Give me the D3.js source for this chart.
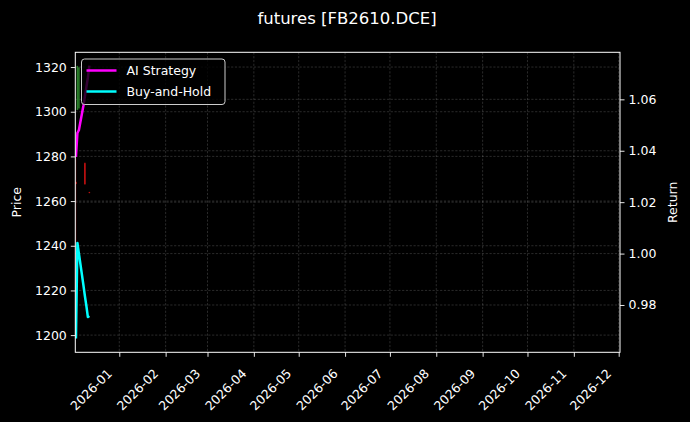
<!DOCTYPE html>
<html>
<head>
<meta charset="utf-8">
<script src="https://cdn.jsdelivr.net/npm/d3@7"></script>
<style>
  html, body { margin: 0; padding: 0; background: #000; }
  svg { display: block; font-family: "DejaVu Sans", sans-serif; }
</style>
</head>
<body>
<div id="chart"></div>
<script>
// data
const lineDates = ["2025-12-03", "2025-12-04", "2025-12-05", "2025-12-08", "2025-12-09", "2025-12-10", "2025-12-11", "2025-12-12"]
const aiStrategy = [1.0376, 1.0469, 1.0481, 1.0575, 1.0612, 1.0648, 1.0685, 1.0731]
const buyAndHold = [0.9670, 1.0041, 1.0000, 0.9878, 0.9835, 0.9796, 0.9753, 0.9757]

const candleDates = ["2025-12-03", "2025-12-04", "2025-12-05", "2025-12-09", "2025-12-12"]
const candleOpen = [1268.6, 1300.8, 1301.5, 1277.0, 1264.0]
const candleHigh = [1279.5, 1320.6, 1320.0, 1277.5, 1264.2]
const candleLow = [1198.5, 1300.6, 1301.0, 1267.3, 1263.4]
const candleClose = [1267.6, 1320.5, 1319.8, 1267.5, 1263.6]

const priceTicks = [1200, 1220, 1240, 1260, 1280, 1300, 1320]
const returnTicks = [0.98, 1.00, 1.02, 1.04, 1.06]
const monthTicks = ["2026-01", "2026-02", "2026-03", "2026-04", "2026-05", "2026-06",
  "2026-07", "2026-08", "2026-09", "2026-10", "2026-11", "2026-12"]

const seriesNames = ["AI Strategy", "Buy-and-Hold"]
const seriesColors = ["#ff00ff", "#00ffff"]

const W = 690, H = 422
const MARGIN = { LEFT: 75.3, RIGHT: 70, TOP: 52.3, BOTTOM: 69.7 }
const parseDay = d3.utcParse("%Y-%m-%d")
const parseMonth = d3.utcParse("%Y-%m")

const svg = d3.select("#chart").append("svg")
  .attr("width", W)
  .attr("height", H)
svg.append("rect").attr("width", W).attr("height", H).attr("fill", "#000")

// Scales
const x = d3.scaleUtc()
  .domain([new Date(Date.UTC(2025, 11, 2, 14)), new Date(Date.UTC(2026, 11, 1, 21))])
  .range([MARGIN.LEFT, W - MARGIN.RIGHT])
const yP = d3.scaleLinear()
  .domain([1192.3, 1326.6])
  .range([H - MARGIN.BOTTOM, MARGIN.TOP])
const yR = d3.scaleLinear()
  .domain([0.9616, 1.0783])
  .range([H - MARGIN.BOTTOM, MARGIN.TOP])

const plotL = MARGIN.LEFT, plotR = W - MARGIN.RIGHT
const plotT = MARGIN.TOP, plotB = H - MARGIN.BOTTOM

svg.append("defs").append("clipPath").attr("id", "plot")
  .append("rect").attr("x", plotL).attr("y", plotT)
  .attr("width", plotR - plotL).attr("height", plotB - plotT)

// Grid
const grid = svg.append("g")
  .attr("stroke", "#fff")
  .attr("stroke-opacity", 0.28)
  .attr("stroke-width", 0.6)
  .attr("stroke-dasharray", "2.2,1.6")
grid.selectAll(".gx").data(monthTicks).enter().append("line")
  .attr("x1", d => x(parseMonth(d))).attr("x2", d => x(parseMonth(d)))
  .attr("y1", plotT).attr("y2", plotB)
grid.selectAll(".gp").data(priceTicks).enter().append("line")
  .attr("x1", plotL).attr("x2", plotR)
  .attr("y1", d => yP(d)).attr("y2", d => yP(d))
grid.selectAll(".gr").data(returnTicks).enter().append("line")
  .attr("x1", plotL).attr("x2", plotR)
  .attr("y1", d => yR(d)).attr("y2", d => yR(d))

const plot = svg.append("g").attr("clip-path", "url(#plot)")

// Candles
const candles = candleDates.map((d, i) => ({
  date: parseDay(d), open: candleOpen[i], high: candleHigh[i], low: candleLow[i], close: candleClose[i]
}))
const candleColor = d => d.close >= d.open ? "#2f8a2f" : "#e01414"
plot.selectAll(".wick").data(candles).enter().append("line")
  .attr("x1", d => x(d.date)).attr("x2", d => x(d.date))
  .attr("y1", d => yP(d.high)).attr("y2", d => yP(d.low))
  .attr("stroke", candleColor)
  .attr("stroke-opacity", 0.45)
  .attr("stroke-width", 0.7)
const dayW = x(new Date(Date.UTC(2026, 0, 2))) - x(new Date(Date.UTC(2026, 0, 1)))
plot.selectAll(".body").data(candles).enter().append("rect")
  .attr("x", d => x(d.date) - dayW * 0.5)
  .attr("width", dayW)
  .attr("y", d => yP(Math.max(d.open, d.close)))
  .attr("height", d => Math.max(0.8, Math.abs(yP(d.open) - yP(d.close))))
  .attr("fill", candleColor)
  .attr("fill-opacity", 0.9)

// Return lines
const line = d3.line()
  .x((d, i) => x(parseDay(lineDates[i])))
  .y(d => yR(d))
;[aiStrategy, buyAndHold].forEach((s, i) => {
  plot.append("path")
    .attr("d", line(s))
    .attr("fill", "none")
    .attr("stroke", seriesColors[i])
    .attr("stroke-width", 2.5)
    .attr("stroke-linejoin", "round")
})

// Axes
const xAxisCall = d3.axisBottom(x)
  .tickValues(monthTicks.map(parseMonth))
  .tickFormat(d3.utcFormat("%Y-%m"))
  .tickSize(4.5)
const xAxis = svg.append("g")
  .attr("transform", `translate(0, ${plotB})`)
  .call(xAxisCall)
xAxis.selectAll("text")
  .attr("text-anchor", "end")
  .attr("dy", null)
  .attr("y", 0)
  .attr("transform", "translate(-7, 22) rotate(-45)")

const yAxisCall = d3.axisLeft(yP).tickValues(priceTicks)
  .tickFormat(d3.format("d")).tickSize(4.5).tickPadding(4)
svg.append("g").attr("transform", `translate(${plotL}, 0)`).call(yAxisCall)

const rAxisCall = d3.axisRight(yR).tickValues(returnTicks)
  .tickFormat(d3.format(".2f")).tickSize(4.5).tickPadding(4)
svg.append("g").attr("transform", `translate(${plotR}, 0)`).call(rAxisCall)

svg.selectAll(".domain").remove()
svg.selectAll(".tick line").attr("stroke", "#fff").attr("stroke-width", 0.9)
svg.selectAll(".tick text").attr("fill", "#fff").attr("font-size", "12.5px")
  .attr("font-family", "DejaVu Sans")

// Frame
svg.append("rect")
  .attr("x", plotL).attr("y", plotT)
  .attr("width", plotR - plotL).attr("height", plotB - plotT)
  .attr("fill", "none").attr("stroke", "#fff").attr("stroke-width", 1)

// Labels
svg.append("text")
  .attr("x", W / 2 + 2).attr("y", 24)
  .attr("text-anchor", "middle")
  .attr("fill", "#fff").attr("font-size", "16.5px")
  .text("futures [FB2610.DCE]")
svg.append("text")
  .attr("transform", `translate(21, ${(plotT + plotB) / 2}) rotate(-90)`)
  .attr("text-anchor", "middle")
  .attr("fill", "#fff").attr("font-size", "12.5px")
  .text("Price")
svg.append("text")
  .attr("transform", `translate(677, ${(plotT + plotB) / 2}) rotate(-90)`)
  .attr("text-anchor", "middle")
  .attr("fill", "#fff").attr("font-size", "12.5px")
  .text("Return")

// Legend
const legend = svg.append("g").attr("transform", "translate(81.5, 59)")
legend.append("rect")
  .attr("width", 143.5).attr("height", 45.5)
  .attr("rx", 3).attr("ry", 3)
  .attr("fill", "#000").attr("fill-opacity", 0.8)
  .attr("stroke", "#cccccc").attr("stroke-width", 1)
seriesNames.forEach((name, i) => {
  const g = legend.append("g").attr("transform", `translate(0, ${11.5 + i * 21})`)
  g.append("line")
    .attr("x1", 5).attr("x2", 35)
    .attr("stroke", seriesColors[i]).attr("stroke-width", 2.5)
  g.append("text")
    .attr("x", 45).attr("y", 4.5)
    .attr("fill", "#fff").attr("font-size", "12.5px")
    .text(name)
})
</script>
</body>
</html>
